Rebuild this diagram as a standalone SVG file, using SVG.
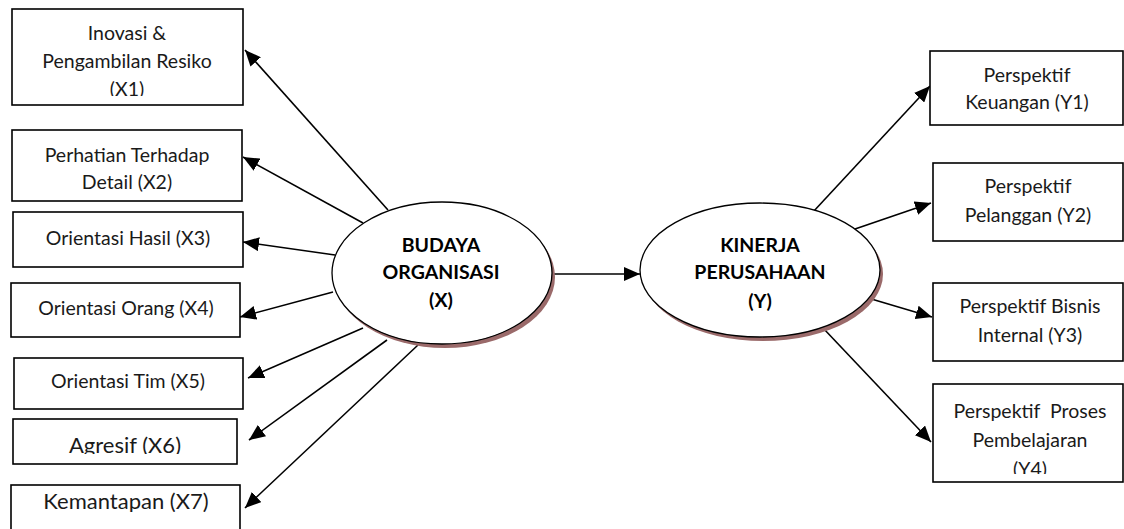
<svg xmlns="http://www.w3.org/2000/svg" width="1124" height="529" viewBox="0 0 1124 529">
<style>
.box{fill:#fff;stroke:#000;stroke-width:1.6}
.t{font-family:Lato,"Open Sans","Liberation Sans",sans-serif;font-size:19.5px;fill:#1a1a1a;text-anchor:middle}
.tb{font-family:Lato,"Open Sans","Liberation Sans",sans-serif;font-size:19.5px;font-weight:bold;fill:#000;text-anchor:middle}
.big{font-size:22px}
.ell{fill:#fff;stroke:#000;stroke-width:1.3}
.sh{fill:#9a6a6a}
.c{stroke:#000;stroke-width:1.6;fill:none;marker-end:url(#ah)}
</style>
<defs>
<marker id="ah" markerUnits="userSpaceOnUse" markerWidth="18" markerHeight="14" refX="16" refY="7" orient="auto">
<path d="M0,0 L16,7 L0,14 Z" fill="#000"/>
</marker>
<clipPath id="c1"><rect x="0" y="0" width="260" height="96"/></clipPath>
<clipPath id="c6"><rect x="0" y="420" width="260" height="34"/></clipPath>
<clipPath id="c7"><rect x="0" y="486" width="260" height="26"/></clipPath>
<clipPath id="c4"><rect x="934" y="388" width="190" height="86"/></clipPath>
</defs>

<g id="connectors">
<line class="c" x1="441" y1="274" x2="640" y2="274"/>
<line class="c" x1="388" y1="210" x2="245" y2="50"/>
<line class="c" x1="363" y1="223" x2="243" y2="157"/>
<line class="c" x1="335" y1="255" x2="243" y2="242"/>
<line class="c" x1="333" y1="292" x2="240" y2="317"/>
<line class="c" x1="363" y1="328" x2="248" y2="378"/>
<line class="c" x1="387" y1="340" x2="249" y2="440"/>
<line class="c" x1="418" y1="345" x2="245" y2="508"/>
<line class="c" x1="813" y1="212" x2="930" y2="86"/>
<line class="c" x1="855" y1="229" x2="931" y2="203"/>
<line class="c" x1="868" y1="298" x2="932" y2="317"/>
<line class="c" x1="823" y1="328" x2="931" y2="442"/>
</g>

<g id="budaya">
<ellipse class="sh" cx="445" cy="277" rx="110" ry="71"/>
<ellipse class="ell" cx="442" cy="273" rx="110" ry="71"/>
<text class="tb" x="441" y="252">BUDAYA</text>
<text class="tb" x="441" y="279">ORGANISASI</text>
<text class="tb" x="441" y="307">(X)</text>
</g>

<g id="kinerja">
<ellipse class="sh" cx="763" cy="274" rx="120" ry="67"/>
<ellipse class="ell" cx="760" cy="270" rx="120" ry="67"/>
<text class="tb" x="760" y="252">KINERJA</text>
<text class="tb" x="760" y="279">PERUSAHAAN</text>
<text class="tb" x="760" y="308">(Y)</text>
</g>

<g id="x1">
<rect class="box" x="12" y="9" width="231" height="96"/>
<g clip-path="url(#c1)">
<text class="t" x="127" y="40">Inovasi &amp;</text>
<text class="t" x="127" y="68">Pengambilan Resiko</text>
<text class="t" x="127" y="96">(X1)</text>
</g>
</g>
<g id="x2">
<rect class="box" x="12" y="130" width="230" height="71"/>
<text class="t" x="127" y="162">Perhatian Terhadap</text>
<text class="t" x="127" y="189">Detail (X2)</text>
</g>
<g id="x3">
<rect class="box" x="13" y="212" width="230" height="55"/>
<text class="t" x="128" y="245">Orientasi Hasil (X3)</text>
</g>
<g id="x4">
<rect class="box" x="11" y="283" width="229" height="54"/>
<text class="t" x="126" y="315">Orientasi Orang (X4)</text>
</g>
<g id="x5">
<rect class="box" x="14" y="358" width="229" height="51"/>
<text class="t" x="128" y="388">Orientasi Tim (X5)</text>
</g>
<g id="x6">
<rect class="box" x="13" y="419" width="224" height="45"/>
<g clip-path="url(#c6)">
<text class="t big" x="125" y="453">Agresif (X6)</text>
</g>
</g>
<g id="x7">
<rect class="box" x="11" y="485" width="229" height="50"/>
<g clip-path="url(#c7)">
<text class="t big" x="126" y="509">Kemantapan (X7)</text>
</g>
</g>

<g id="y1">
<rect class="box" x="930" y="51" width="193" height="74"/>
<text class="t" x="1027" y="82">Perspektif</text>
<text class="t" x="1027" y="109">Keuangan (Y1)</text>
</g>
<g id="y2">
<rect class="box" x="933" y="163" width="190" height="78"/>
<text class="t" x="1028" y="193">Perspektif</text>
<text class="t" x="1028" y="222">Pelanggan (Y2)</text>
</g>
<g id="y3">
<rect class="box" x="933" y="283" width="190" height="78"/>
<text class="t" x="1030" y="313">Perspektif Bisnis</text>
<text class="t" x="1030" y="342">Internal (Y3)</text>
</g>
<g id="y4">
<rect class="box" x="933" y="384" width="190" height="98"/>
<g clip-path="url(#c4)">
<text class="t" x="1030" y="418" xml:space="preserve">Perspektif  Proses</text>
<text class="t" x="1030" y="447">Pembelajaran</text>
<text class="t" x="1030" y="476">(Y4)</text>
</g>
</g>
</svg>
